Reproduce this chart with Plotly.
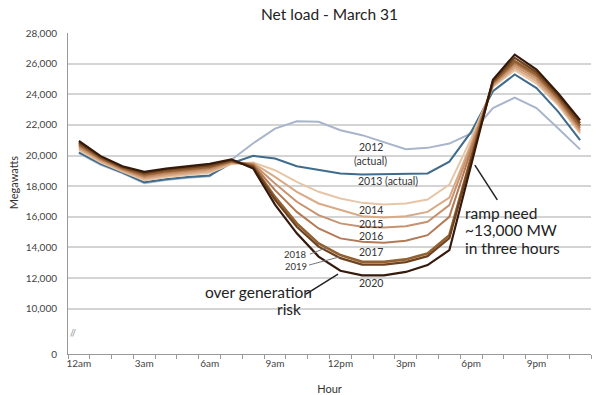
import plotly.graph_objects as go

hours = list(range(24))
hour_tick_vals = [0, 3, 6, 9, 12, 15, 18, 21]
hour_tick_text = ["12am", "3am", "6am", "9am", "12pm", "3pm", "6pm", "9pm"]

y_tick_vals = [10000, 12000, 14000, 16000, 18000, 20000, 22000, 24000, 26000, 28000]
y_tick_text = ["10,000", "12,000", "14,000", "16,000", "18,000", "20,000", "22,000", "24,000", "26,000", "28,000"]

load_2012 = [20150, 19400, 18850, 18200, 18400, 18550, 18650, 19700, 20800, 21760, 22240, 22200,
             21650, 21330, 20890, 20410, 20500, 20780, 21450, 23100, 23780, 23100, 21760, 20400]
load_2013 = [20200, 19450, 18880, 18250, 18450, 18600, 18700, 19500, 19980, 19800, 19300, 19040,
             18830, 18760, 18780, 18830, 18830, 19600, 21540, 24200, 25290, 24400, 22850, 21000]
load_2014 = [20350, 19550, 18950, 18380, 18600, 18750, 18880, 19450, 19550, 19040, 18280, 17630,
             17200, 16910, 16800, 16870, 17130, 18100, 21100, 24480, 25570, 24700, 23280, 21440]
load_2015 = [20450, 19630, 19020, 18480, 18700, 18850, 18980, 19500, 19500, 18610, 17630, 16870,
             16430, 16040, 15960, 16040, 16320, 17260, 20800, 24550, 25720, 24850, 23400, 21560]
load_2016 = [20550, 19710, 19080, 18580, 18800, 18950, 19080, 19550, 19450, 18170, 16980, 16110,
             15570, 15350, 15300, 15390, 15670, 16760, 20600, 24620, 25870, 25000, 23520, 21680]
load_2017 = [20650, 19780, 19140, 18670, 18900, 19050, 19180, 19600, 19400, 17740, 16320, 15240,
             14590, 14370, 14300, 14430, 14800, 16000, 20300, 24700, 26020, 25150, 23650, 21800]
load_2018 = [20750, 19850, 19200, 18760, 18980, 19130, 19270, 19650, 19300, 17300, 15570, 14260,
             13500, 13060, 13060, 13220, 13610, 14800, 19900, 24780, 26170, 25300, 23780, 21950]
load_2019 = [20850, 19910, 19250, 18850, 19070, 19220, 19360, 19700, 19250, 17100, 15350, 14050,
             13300, 12880, 12880, 13040, 13430, 14600, 19700, 24850, 26380, 25450, 23920, 22120]
load_2020 = [20950, 19960, 19300, 18930, 19150, 19300, 19450, 19750, 19150, 16800, 14920, 13400,
             12480, 12180, 12180, 12400, 12850, 13820, 19400, 24950, 26590, 25610, 24050, 22300]

series_names = ["2012", "2013", "2014", "2015", "2016", "2017", "2018", "2019", "2020"]
series_values = [load_2012, load_2013, load_2014, load_2015, load_2016, load_2017,
                 load_2018, load_2019, load_2020]
series_colors = ["#a9b5cb", "#3f6b8c", "#e6c6a6", "#d8aa86", "#c8926e", "#b47a55",
                 "#93602f", "#6e4220", "#35190b"]
series_widths = [2, 2, 2, 2, 2, 2, 2.6, 2.2, 2.2]

AXIS_BOTTOM = 7042  # value at the bottom of the broken axis (shown as "0")

fig = go.Figure()
for name, vals, col, w in zip(series_names, series_values, series_colors, series_widths):
    fig.add_trace(go.Scatter(x=hours, y=vals, mode="lines", name=name,
                             line=dict(color=col, width=w), showlegend=False))

font_family = "Lato, 'DejaVu Sans', sans-serif"
label_color = "#333333"
lab = dict(size=10.5, color=label_color)
lab_small = dict(size=9.5, color=label_color)
big = dict(size=15.5, color="#222222")

annotations = [
    dict(x=13.4, y=20560, text="2012", showarrow=False, font=lab),
    dict(x=13.4, y=19650, text="(actual)", showarrow=False, font=lab),
    dict(x=14.2, y=18350, text="2013 (actual)", showarrow=False, font=lab),
    dict(x=13.4, y=16430, text="2014", showarrow=False, font=lab),
    dict(x=13.4, y=15500, text="2015", showarrow=False, font=lab),
    dict(x=13.4, y=14740, text="2016", showarrow=False, font=lab),
    dict(x=13.4, y=13700, text="2017", showarrow=False, font=lab),
    dict(x=13.4, y=11690, text="2020", showarrow=False, font=lab),
    dict(x=10.55, y=13560, text="2018", showarrow=False, xanchor="right", font=lab_small),
    dict(x=10.55, y=12780, text="2019", showarrow=False, xanchor="right", font=lab_small),
    dict(x=8.26, y=11110, text="over generation", showarrow=False, font=big),
    dict(x=9.64, y=9980, text="risk", showarrow=False, font=big),
    dict(x=17.62, y=16230, text="ramp need", showarrow=False, xanchor="left", font=big),
    dict(x=17.62, y=15120, text="~13,000 MW", showarrow=False, xanchor="left", font=big),
    dict(x=17.62, y=13950, text="in three hours", showarrow=False, xanchor="left", font=big),
    dict(xref="paper", yref="paper", x=-0.105, y=0.532, xanchor="center", yanchor="middle",
         text="Megawatts", textangle=-90, showarrow=False, font=dict(size=11, color="#333333")),
    dict(xref="paper", yref="y", x=0, y=8420, text="//", showarrow=False,
         font=dict(size=9, color="#888888")),
]

shapes = [
    # leader lines
    dict(type="line", x0=10.6, y0=13560, x1=11.38, y1=13990, line=dict(color="#777777", width=1)),
    dict(type="line", x0=10.56, y0=12850, x1=11.93, y1=13370, line=dict(color="#777777", width=1)),
    dict(type="line", x0=10.42, y0=10950, x1=11.89, y1=12260, line=dict(color="#222222", width=1.5)),
    dict(type="line", x0=18.17, y0=19370, x1=19.2, y1=17100, line=dict(color="#222222", width=1.5)),
]

fig.update_layout(
    width=600, height=395,
    margin=dict(l=68, r=9, t=33, b=41),
    paper_bgcolor="white", plot_bgcolor="white",
    font=dict(family=font_family, color="#444444"),
    title=dict(text="Net load - March 31", x=0.5, xref="paper", xanchor="center",
               y=0.962, yanchor="middle", font=dict(size=15.5, color="#222222")),
    annotations=annotations,
    shapes=shapes,
    hovermode=False,
)

fig.update_xaxes(
    range=[-0.5, 23.5],
    automargin=False,
    tickmode="array", tickvals=hour_tick_vals, ticktext=hour_tick_text,
    ticks="", showgrid=False, zeroline=False,
    showline=True, linecolor="#999999", linewidth=1,
    tickfont=dict(size=10, color="#444444"),
    ticklabelstandoff=0,
    minor=dict(tickmode="array", tickvals=[h - 0.5 for h in range(25)],
               ticks="outside", ticklen=4, tickcolor="#999999", showgrid=False),
    title=dict(text="Hour", font=dict(size=11, color="#333333"), standoff=17),
)

fig.update_yaxes(
    range=[AXIS_BOTTOM, 28000],
    automargin=False,
    tickmode="array", tickvals=[AXIS_BOTTOM] + y_tick_vals, ticktext=["0"] + y_tick_text,
    showgrid=True, gridcolor="#d4d4d4", gridwidth=1.5,
    zeroline=False, showline=True, linecolor="#999999", linewidth=1,
    ticks="", tickfont=dict(size=10, color="#444444"),
    ticklabelstandoff=8,
)

fig.write_html("out.html", config={"displayModeBar": False},
               post_script="document.body.style.margin='0';")
